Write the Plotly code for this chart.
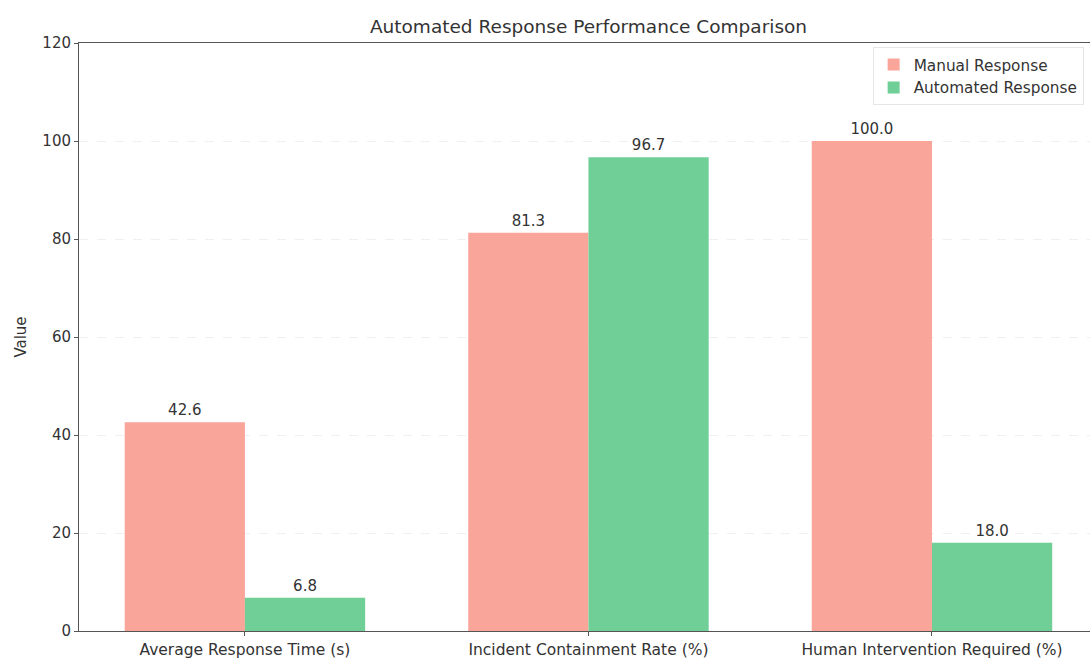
import plotly.graph_objects as go

# Performance metrics compared between manual and automated incident handling
categories = ["Average Response Time (s)", "Incident Containment Rate (%)", "Human Intervention Required (%)"]
manual_values = [42.6, 81.3, 100.0]
automated_values = [6.8, 96.7, 18.0]
y_ticks = [0, 20, 40, 60, 80, 100, 120]

FONT = "DejaVu Sans"
TEXT = "#333333"
AXIS = "#555555"
BAR_W = 0.35
x_pos = list(range(len(categories)))

fig = go.Figure()
fig.add_trace(go.Bar(
    x=x_pos, y=manual_values, name="Manual Response",
    width=BAR_W, offset=-BAR_W,
    marker=dict(color="#F9A59A", line=dict(width=0)),
    text=[f"{v:.1f}" for v in manual_values], textposition="outside",
    textfont=dict(family=FONT, size=15, color=TEXT), cliponaxis=False,
))
fig.add_trace(go.Bar(
    x=x_pos, y=automated_values, name="Automated Response",
    width=BAR_W, offset=0,
    marker=dict(color="#6FCF97", line=dict(width=0)),
    text=[f"{v:.1f}" for v in automated_values], textposition="outside",
    textfont=dict(family=FONT, size=15, color=TEXT), cliponaxis=False,
))

fig.update_layout(
    width=1090, height=659,
    margin=dict(l=79, r=0, t=43, b=28, pad=0),
    paper_bgcolor="white", plot_bgcolor="white",
    barmode="overlay",
    font=dict(family=FONT, size=15, color=TEXT),
    title=dict(text="Automated Response Performance Comparison",
               x=(79 + 1098) / 2 / 1090, xanchor="center",
               y=1 - 27 / 659, yanchor="middle",
               font=dict(family=FONT, size=18.5, color=TEXT)),
    legend=dict(x=0.785, y=0.993, xanchor="left", yanchor="top",
                bgcolor="rgba(255,255,255,0.85)", bordercolor="#e6e6e6", borderwidth=1,
                font=dict(family=FONT, size=15.3, color=TEXT), tracegroupgap=4),
    showlegend=True,
)
fig.update_xaxes(
    range=[-0.483, 2.46], tickmode="array", tickvals=x_pos, ticktext=categories,
    showline=True, linecolor=AXIS, linewidth=1, mirror=True,
    ticks="outside", ticklen=4, tickcolor=AXIS, showgrid=False, zeroline=False,
    tickfont=dict(family=FONT, size=15.5, color=TEXT),
)
fig.update_yaxes(
    range=[0, 120], tickmode="array", tickvals=y_ticks,
    showline=True, linecolor=AXIS, linewidth=1,
    ticks="outside", ticklen=4, tickcolor=AXIS,
    showgrid=True, gridcolor="rgba(0,0,0,0.06)", griddash="dash", zeroline=False,
    tickfont=dict(family=FONT, size=15, color=TEXT),
    title=dict(text="Value", font=dict(family=FONT, size=15, color=TEXT), standoff=12),
)

fig.write_html("out.html")
